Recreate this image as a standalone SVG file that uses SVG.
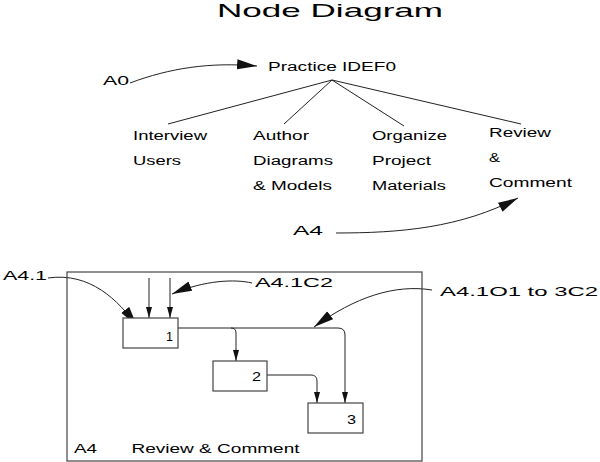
<svg xmlns="http://www.w3.org/2000/svg" width="600" height="462" viewBox="0 0 600 462">
<defs>
<style>
text{font-family:"Liberation Sans",Arial,sans-serif;fill:#000}
.t{font-size:12.5px}
.lbl{font-size:13.5px}
.ln{fill:none;stroke:#222;stroke-width:1}
.box{fill:#fff;stroke:#444;stroke-width:1.2}
.big{marker-end:url(#big)}
.sm{marker-end:url(#sm)}
</style>
<marker id="big" markerUnits="userSpaceOnUse" markerWidth="22" markerHeight="12" refX="20" refY="5" orient="auto"><path d="M0,0 L20,5 L0,10 z" fill="#111"/></marker>
<marker id="sm" markerUnits="userSpaceOnUse" markerWidth="12" markerHeight="8" refX="11" refY="3" orient="auto"><path d="M0,0 L11,3 L0,6 z" fill="#111"/></marker>
</defs>
<rect width="600" height="462" fill="#fff"/>
<text x="217" y="16.5" font-size="19" textLength="226" lengthAdjust="spacingAndGlyphs">Node Diagram</text>

<g id="connectors">
<path class="ln big" d="M130,83 C170,68 210,62 257,66"/>
<path class="ln" d="M332,80 L168,124 M332,80 L284,124 M332,80 L404,126 M332,80 L521,124"/>
<path class="ln big" d="M336,233 C400,233 460,228 518,198"/>
<path class="ln big" d="M48,278 C90,272 118,300 137,326"/>
<path class="ln big" d="M252,283 C235,279 205,280 172,294"/>
<path class="ln big" d="M432,290 C395,284 355,297 314,327"/>
<path class="ln sm" d="M149,278 V318"/>
<path class="ln sm" d="M170,278 V318"/>
<path class="ln sm" d="M178,328 H338 Q345,328 345,335 V403"/>
<path class="ln sm" d="M231,328 Q236,328 236,333 V361"/>
<path class="ln sm" d="M267,375 H311 Q317,375 317,381 V403"/>
</g>

<g id="A0"><text class="lbl" x="103" y="85" textLength="26" lengthAdjust="spacingAndGlyphs">A0</text></g>
<g id="practice"><text class="t" x="268" y="71" textLength="128" lengthAdjust="spacingAndGlyphs">Practice IDEF0</text></g>
<g id="interview">
<text class="t" x="133" y="140" textLength="74" lengthAdjust="spacingAndGlyphs">Interview</text>
<text class="t" x="133" y="165" textLength="48" lengthAdjust="spacingAndGlyphs">Users</text>
</g>
<g id="author">
<text class="t" x="253" y="140" textLength="56" lengthAdjust="spacingAndGlyphs">Author</text>
<text class="t" x="253" y="165" textLength="80" lengthAdjust="spacingAndGlyphs">Diagrams</text>
<text class="t" x="253" y="190" textLength="79" lengthAdjust="spacingAndGlyphs">&amp; Models</text>
</g>
<g id="organize">
<text class="t" x="372" y="140" textLength="75" lengthAdjust="spacingAndGlyphs">Organize</text>
<text class="t" x="372" y="165" textLength="59" lengthAdjust="spacingAndGlyphs">Project</text>
<text class="t" x="372" y="190" textLength="74" lengthAdjust="spacingAndGlyphs">Materials</text>
</g>
<g id="review">
<text class="t" x="489" y="137" textLength="62" lengthAdjust="spacingAndGlyphs">Review</text>
<text class="t" x="489" y="162" textLength="11" lengthAdjust="spacingAndGlyphs">&amp;</text>
<text class="t" x="489" y="187" textLength="83" lengthAdjust="spacingAndGlyphs">Comment</text>
</g>
<g id="A4top"><text class="lbl" x="293" y="235" textLength="30" lengthAdjust="spacingAndGlyphs">A4</text></g>

<g id="frame">
<rect x="67" y="272" width="355" height="189" fill="none" stroke="#444" stroke-width="1.2"/>
<text class="t" x="74" y="453" textLength="23" lengthAdjust="spacingAndGlyphs">A4</text>
<text class="t" x="131.5" y="453" textLength="168" lengthAdjust="spacingAndGlyphs">Review &amp; Comment</text>
</g>
<g id="box1"><rect class="box" x="123" y="318" width="55" height="30"/><text class="t" x="166" y="341" textLength="7" lengthAdjust="spacingAndGlyphs">1</text></g>
<g id="box2"><rect class="box" x="213" y="361" width="54" height="30"/><text class="t" x="252" y="381" textLength="9" lengthAdjust="spacingAndGlyphs">2</text></g>
<g id="box3"><rect class="box" x="308" y="403" width="55" height="30"/><text class="t" x="347" y="424" textLength="9" lengthAdjust="spacingAndGlyphs">3</text></g>

<g id="A4.1"><text class="lbl" x="3" y="280" textLength="44" lengthAdjust="spacingAndGlyphs">A4.1</text></g>
<g id="A4.1C2"><text class="lbl" x="255" y="287" textLength="78" lengthAdjust="spacingAndGlyphs">A4.1C2</text></g>
<g id="A4.1O1"><text class="lbl" x="440" y="296" textLength="158" lengthAdjust="spacingAndGlyphs">A4.1O1 to 3C2</text></g>
</svg>
